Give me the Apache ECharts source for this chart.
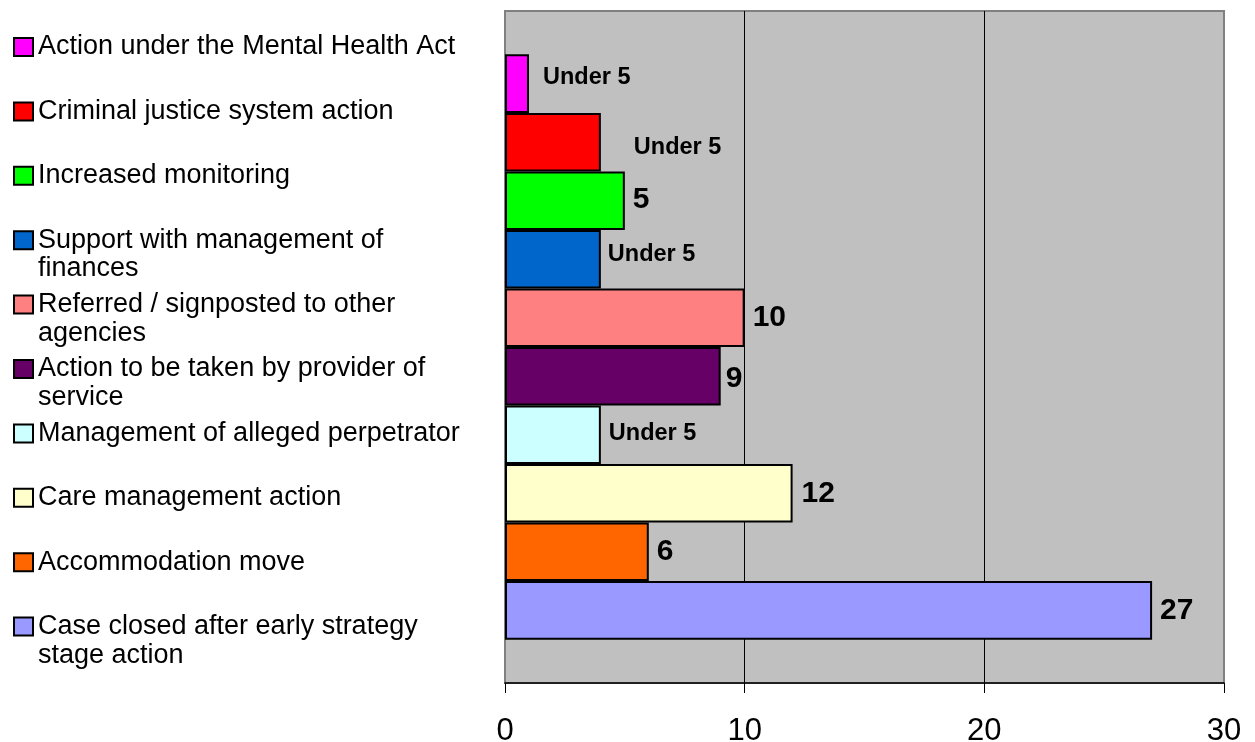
<!DOCTYPE html>
<html><head><meta charset="utf-8">
<script src="https://cdn.jsdelivr.net/npm/echarts@6/dist/echarts.min.js"></script>
<style>html,body{margin:0;padding:0;background:#fff}#c{width:1255px;height:742px}</style>
</head><body><div id="c"></div>
<script>
// ---- data ----
const categories = [
  'Action under the Mental Health Act',
  'Criminal justice system action',
  'Increased monitoring',
  'Support with management of\nfinances',
  'Referred / signposted to other\nagencies',
  'Action to be taken by provider of\nservice',
  'Management of alleged perpetrator',
  'Care management action',
  'Accommodation move',
  'Case closed after early strategy\nstage action'
];
const values = [1, 4, 5, 4, 10, 9, 4, 12, 6, 27];
const valueLabels = ['Under 5', 'Under 5', '5', 'Under 5', '10', '9', 'Under 5', '12', '6', '27'];
const xTickValues = [0, 10, 20, 30];

// ---- styles ----
const colors = ['#FF00FF', '#FF0000', '#00FF00', '#0066CC', '#FF8080', '#660066', '#CCFFFF', '#FFFFCC', '#FF6600', '#9999FF'];
const labelNudge = [[6, -6], [25, 5], [0, -1], [-1, -5], [0, 0], [-3, 2], [0, -1], [1, 0], [0, 0], [0, 0]];
const FONT = '"Liberation Sans", Arial, Helvetica, sans-serif';
const LEG_LH = 28.5, LEG_FIRST = 47, LEG_STEP = 64.4;

const series = categories.map((name, i) => ({
  type: 'bar',
  name: name,
  data: [{
    value: values[i],
    label: {
      offset: labelNudge[i],
      fontSize: valueLabels[i].length > 3 ? 23.5 : 30
    }
  }],
  barGap: '0%',
  barCategoryGap: '12.9%',
  itemStyle: { color: colors[i], borderColor: '#000', borderWidth: 2 },
  label: {
    show: true, position: 'right', distance: 8, color: '#000',
    fontWeight: 'bold', fontFamily: FONT,
    formatter: () => valueLabels[i]
  },
  emphasis: { disabled: true }
}));

// one legend block per entry so each icon sits on the first text line
const legends = categories.map((name, i) => {
  const lines = name.split('\n').length;
  const boxH = lines === 1 ? LEG_LH : 3 * LEG_LH;
  return {
    data: [name], orient: 'vertical', left: 13,
    top: LEG_FIRST + i * LEG_STEP - boxH / 2,
    padding: 0, itemWidth: 19, itemHeight: 18, itemGap: 0,
    icon: 'rect', selectedMode: false,
    itemStyle: { borderColor: '#000', borderWidth: 2 },
    formatter: (n) => (lines === 1 ? n : '\u00a0\n' + n),
    textStyle: { fontSize: 27, lineHeight: LEG_LH, color: '#000', fontFamily: FONT }
  };
});

const chart = echarts.init(document.getElementById('c'), null, { renderer: 'canvas' });
chart.setOption({
  animation: false,
  textStyle: { fontFamily: FONT },
  legend: legends,
  grid: {
    left: 505, right: 31, top: 11, bottom: 59,
    show: true, backgroundColor: '#C0C0C0', borderColor: '#808080', borderWidth: 2,
    outerBoundsMode: 'none', containLabel: false
  },
  xAxis: {
    type: 'value',
    min: xTickValues[0], max: xTickValues[xTickValues.length - 1],
    interval: xTickValues[1] - xTickValues[0],
    axisLine: { show: true, lineStyle: { color: '#000', width: 1.5 } },
    axisTick: { show: true, inside: false, length: 10, lineStyle: { color: '#000', width: 1 } },
    axisLabel: { fontSize: 31, color: '#000', margin: 33, fontFamily: FONT },
    splitLine: { show: true, showMinLine: false, showMaxLine: false, lineStyle: { color: '#000', width: 1 } }
  },
  yAxis: {
    type: 'category', data: [''],
    axisLine: { show: false }, axisTick: { show: false }, axisLabel: { show: false }, splitLine: { show: false }
  },
  series: series
});
</script>
</body></html>
